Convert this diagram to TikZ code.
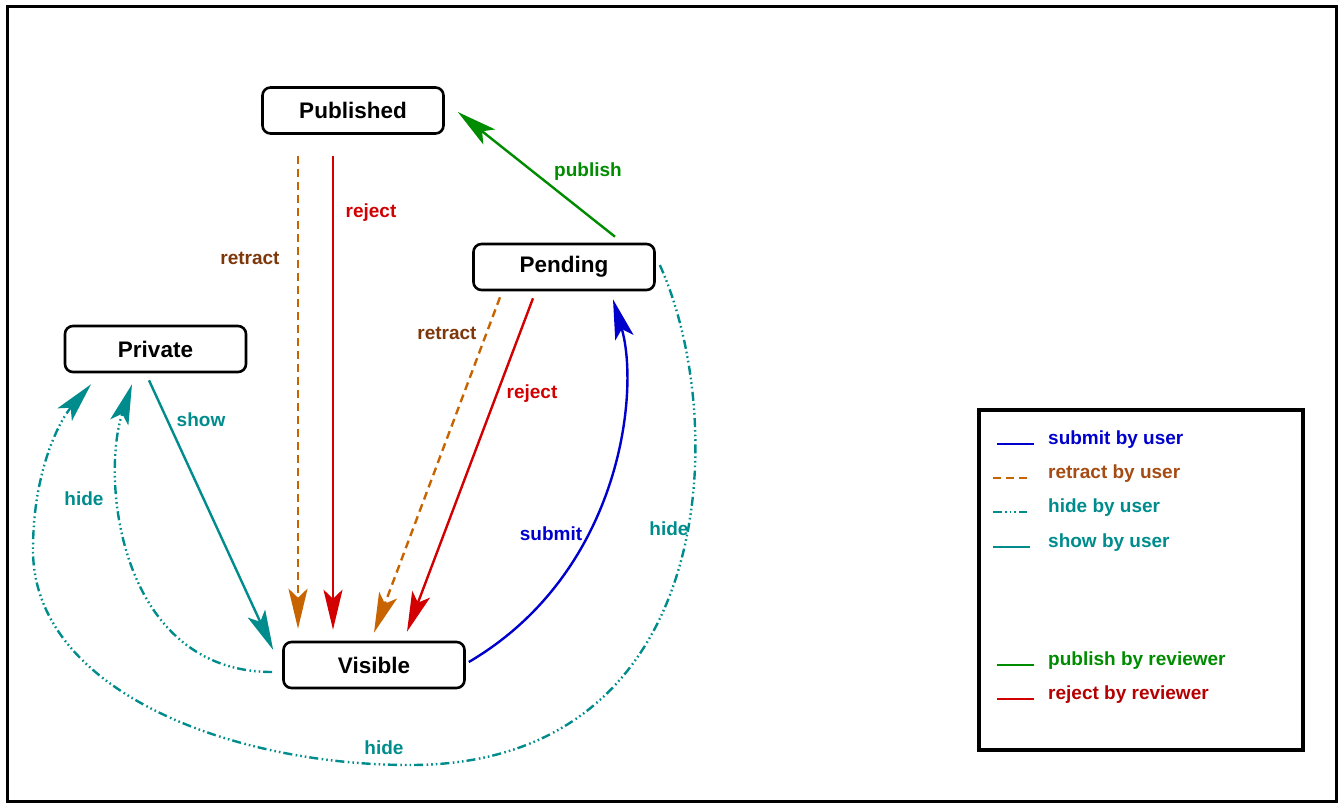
\documentclass[tikz,border=0pt]{standalone}
\usepackage{fontspec}
\setmainfont{Liberation Sans}
\usetikzlibrary{arrows.meta}
\definecolor{cblue}{RGB}{0,0,205}
\definecolor{cred}{RGB}{210,0,0}
\definecolor{cdred}{RGB}{180,0,0}
\definecolor{cgreen}{RGB}{0,140,0}
\definecolor{cteal}{RGB}{0,140,140}
\definecolor{corange}{RGB}{200,100,0}
\definecolor{cbrown}{RGB}{125,55,10}
\definecolor{clbrown}{RGB}{165,75,20}
\tikzset{
  state/.style={draw, line width=2.6pt, rounded corners=8pt, minimum width=181pt,
    minimum height=46pt, inner sep=0pt, font=\fontsize{22.5}{27}\selectfont\bfseries},
  lab/.style={font=\fontsize{19}{23}\selectfont\bfseries, inner sep=0pt},
  legtext/.style={font=\fontsize{19}{23}\selectfont\bfseries, inner sep=0pt, anchor=base west},
  arr/.style={-{Stealth[length=40pt,width=19pt,inset=9pt]}},
  conn/.style={line width=2.4pt},
  sub/.style={conn, cblue},
  rej/.style={conn, cred},
  pubc/.style={conn, cgreen},
  retr/.style={conn, corange, dash pattern=on 8pt off 5pt},
  shw/.style={conn, cteal},
  hid/.style={conn, cteal, dash pattern=on 9pt off 3pt on 1.6pt off 3pt on 1.6pt off 3pt on 1.6pt off 3.5pt},
}
\begin{document}
\begin{tikzpicture}[x=1pt,y=-1pt]
\useasboundingbox (0,0) rectangle (1343,803);
\draw[line width=3pt] (7,6) rectangle (1336,801);

% states
\node[state] (pub) at (353,110.5) {Published};
\node[state] (pend) at (564,267) {Pending};
\node[state] (priv) at (155.5,349) {Private};
\node[state] (vis) at (374,665) {Visible};

% Published -> Visible
\draw[retr,arr] ([xshift=-55pt,yshift=-21pt]pub.south) -- ([xshift=-76pt,yshift=12pt]vis.north);
\draw[rej,arr] ([xshift=-20pt,yshift=-21pt]pub.south) -- ([xshift=-41pt,yshift=11pt]vis.north);
% Pending -> Published
\draw[pubc,arr] ([xshift=51pt,yshift=6pt]pend.north) -- ([xshift=13pt,yshift=-1.5pt]pub.east);
% Pending -> Visible
\draw[retr,arr] ([xshift=-64pt,yshift=-6pt]pend.south) -- ([yshift=8pt]vis.north);
\draw[rej,arr] ([xshift=-31pt,yshift=-7pt]pend.south) -- ([xshift=33pt,yshift=9pt]vis.north);
% Visible -> Pending
\draw[sub,arr] ([xshift=3pt,yshift=3pt]vis.east) .. controls (622,572) and (640,390) .. ([xshift=49pt,yshift=-8pt]pend.south);
% Private -> Visible
\draw[shw,arr] ([xshift=-6.5pt,yshift=-7pt]priv.south) -- ([xshift=-9pt,yshift=15pt]vis.west);
% Visible -> Private (hide)
\draw[hid,arr] ([xshift=-10pt,yshift=-7pt]vis.west) .. controls (120,672) and (100,480) .. ([xshift=-23.5pt,yshift=-11pt]priv.south);
% Pending -> Private (hide)
\draw[hid,arr] ([xshift=4pt,yshift=2pt]pend.east) .. controls (730,420) and (720,765) .. (410,765)
  .. controls (230,765) and (33,690) .. (33,550)
  .. controls (33,470) and (60,420) .. ([xshift=-64.5pt,yshift=-11pt]priv.south);

% labels
\node[lab, text=cbrown] (l1) at (250,258) {retract};
\node[lab, text=cred] (l2) at (371,213) {reject};
\node[lab, text=cgreen] (l3) at (588,172) {publish};
\node[lab, text=cbrown] (l4) at (447,333) {retract};
\node[lab, text=cred] (l5) at (532,394) {reject};
\node[lab, text=cblue] (l6) at (551,534) {submit};
\node[lab, text=cteal] (l7) at (201,420) {show};
\node[lab, text=cteal] (l8) at (84,499) {hide};
\node[lab, text=cteal] (l9) at (669,529) {hide};
\node[lab, text=cteal] (l10) at (384,748) {hide};

% legend
\draw[line width=3.5pt] (979,410) rectangle (1303,750);
\node[legtext, text=cblue] (g1) at (1048,444) {submit by user};
\node[legtext, text=clbrown] (g2) at (1048,478) {retract by user};
\node[legtext, text=cteal] (g3) at (1048,512) {hide by user};
\node[legtext, text=cteal] (g4) at (1048,547) {show by user};
\node[legtext, text=cgreen] (g5) at (1048,665) {publish by reviewer};
\node[legtext, text=cdred] (g6) at (1048,699) {reject by reviewer};
\draw[sub] ([xshift=-51pt]g1.base west) -- ++(37,0);
\draw[retr] ([xshift=-55pt]g2.base west) -- ++(37,0);
\draw[hid] ([xshift=-55pt]g3.base west) -- ++(34,0);
\draw[shw] ([xshift=-55pt]g4.base west) -- ++(37,0);
\draw[pubc] ([xshift=-51pt]g5.base west) -- ++(37,0);
\draw[rej] ([xshift=-51pt]g6.base west) -- ++(37,0);
\end{tikzpicture}
\end{document}
